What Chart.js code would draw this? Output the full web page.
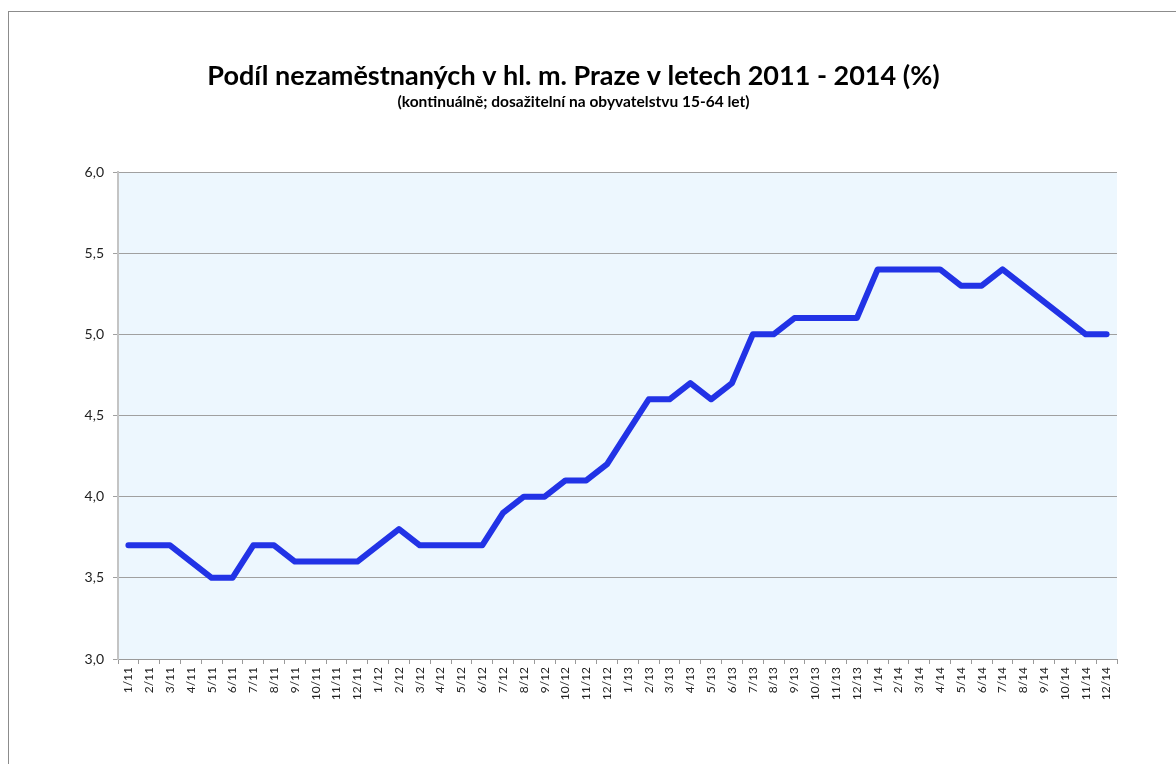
<!DOCTYPE html>
<html>
<head>
<meta charset="utf-8">
<script src="https://cdn.jsdelivr.net/npm/chart.js@4.4.1/dist/chart.umd.min.js"></script>
<style>
  html, body { margin: 0; padding: 0; background: #fff; }
  #wrap { position: relative; width: 1176px; height: 764px; overflow: hidden; }
  #frame { position: absolute; left: 8px; top: 11px; width: 1300px; height: 900px; border: 1px solid #8c8c8c; border-width: 1px 0 0 1px; box-sizing: border-box; }
  canvas { position: absolute; left: 0; top: 0; }
</style>
</head>
<body>
<div id="wrap">
  <div id="frame"></div>
  <canvas id="c" width="1176" height="764"></canvas>
</div>
<script>
const titleText = 'Podíl nezaměstnaných v hl. m. Praze v letech 2011 - 2014 (%)';
const subtitleText = '(kontinuálně; dosažitelní na obyvatelstvu 15-64 let)';

const categories = [
  '1/11','2/11','3/11','4/11','5/11','6/11','7/11','8/11','9/11','10/11','11/11','12/11',
  '1/12','2/12','3/12','4/12','5/12','6/12','7/12','8/12','9/12','10/12','11/12','12/12',
  '1/13','2/13','3/13','4/13','5/13','6/13','7/13','8/13','9/13','10/13','11/13','12/13',
  '1/14','2/14','3/14','4/14','5/14','6/14','7/14','8/14','9/14','10/14','11/14','12/14'
];

const unemploymentRate = [
  3.7, 3.7, 3.7, 3.6, 3.5, 3.5, 3.7, 3.7, 3.6, 3.6, 3.6, 3.6,
  3.7, 3.8, 3.7, 3.7, 3.7, 3.7, 3.9, 4.0, 4.0, 4.1, 4.1, 4.2,
  4.4, 4.6, 4.6, 4.7, 4.6, 4.7, 5.0, 5.0, 5.1, 5.1, 5.1, 5.1,
  5.4, 5.4, 5.4, 5.4, 5.3, 5.3, 5.4, 5.3, 5.2, 5.1, 5.0, 5.0
];

const yMin = 3.0, yMax = 6.0, yStep = 0.5;

const plotBg = {
  id: 'plotBg',
  beforeDraw(chart) {
    const {ctx, chartArea: a} = chart;
    ctx.save();
    ctx.fillStyle = '#edf7fe';
    ctx.fillRect(a.left, a.top, a.right - a.left, a.bottom - a.top);
    ctx.restore();
  }
};

new Chart(document.getElementById('c'), {
  type: 'line',
  data: {
    labels: categories,
    datasets: [{
      data: unemploymentRate,
      borderColor: '#2233e6',
      borderWidth: 6,
      pointRadius: 0,
      tension: 0,
      borderCapStyle: 'round',
      borderJoinStyle: 'round',
      fill: false
    }]
  },
  options: {
    responsive: false,
    animation: false,
    devicePixelRatio: 1,
    layout: { padding: { left: 30, right: 59, top: 0, bottom: 0 } },
    plugins: {
      legend: { display: false },
      tooltip: { enabled: false },
      title: {
        display: true,
        text: titleText,
        color: '#000',
        font: { family: 'Lato', size: 27, weight: 'bold' },
        padding: { top: 60, bottom: 0 }
      },
      subtitle: {
        display: true,
        text: subtitleText,
        color: '#000',
        font: { family: 'Lato', size: 15.5, weight: 'bold' },
        padding: { top: 0, bottom: 61 }
      }
    },
    scales: {
      x: {
        type: 'category',
        offset: true,
        afterFit(s) { s.height = 105; },
        grid: {
          offset: true,
          drawOnChartArea: false,
          drawTicks: true,
          tickLength: 5,
          color: '#9a9a9a'
        },
        border: { display: true, color: '#9a9a9a', width: 1 },
        ticks: {
          autoSkip: false,
          minRotation: 90,
          maxRotation: 90,
          padding: 3,
          color: '#222',
          font: { family: 'Lato', size: 12 }
        }
      },
      y: {
        min: yMin,
        max: yMax,
        afterFit(s) { s.width = 88; },
        grid: {
          color: '#a0a0a0',
          lineWidth: 1,
          drawTicks: true,
          tickLength: 5
        },
        border: { display: true, color: '#c4c4c4', width: 2 },
        ticks: {
          stepSize: yStep,
          padding: 9,
          color: '#222',
          font: { family: 'Lato', size: 14 },
          callback: v => v.toFixed(1).replace('.', ',')
        }
      }
    }
  },
  plugins: [plotBg]
});
</script>
</body>
</html>
